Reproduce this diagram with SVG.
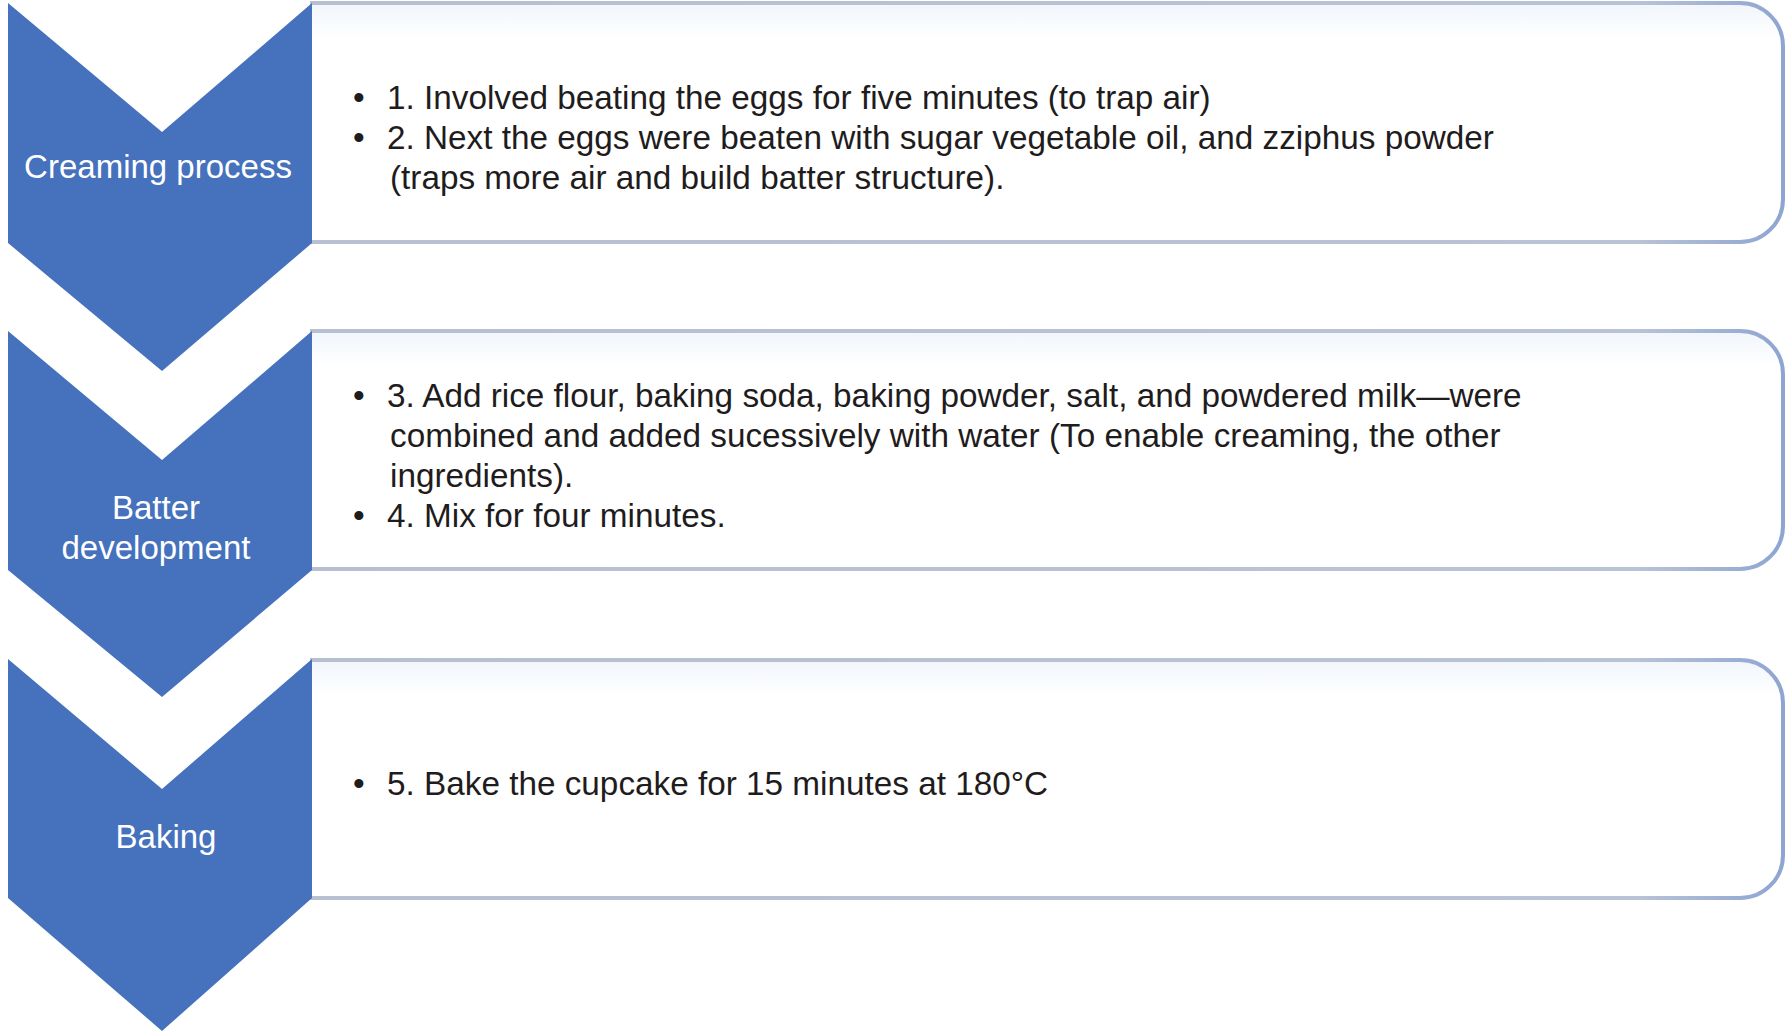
<svg xmlns="http://www.w3.org/2000/svg" width="1786" height="1033" viewBox="0 0 1786 1033">
<defs>
<linearGradient id="boxfill" x1="0" y1="0" x2="0" y2="1">
<stop offset="0" stop-color="#f1f6fc"/>
<stop offset="0.15" stop-color="#ffffff"/>
<stop offset="1" stop-color="#ffffff"/>
</linearGradient>
<linearGradient id="boxstroke" x1="0" y1="0" x2="1" y2="0">
<stop offset="0" stop-color="#b7c0d0"/>
<stop offset="0.9" stop-color="#b9c3d6"/>
<stop offset="1" stop-color="#8ea5d2"/>
</linearGradient>
</defs>
<style>
.box{fill:url(#boxfill);stroke:url(#boxstroke);stroke-width:4}
.chev{fill:#4571bd}
.lbl{font-family:"Liberation Sans",Arial,sans-serif;font-size:33px;fill:#ffffff;text-anchor:middle}
.txt{font-family:"Liberation Sans",Arial,sans-serif;font-size:33.3px;fill:#1f1c1d}
</style>
<g id="connectors"></g>
<g id="step1">
<path class="box" d="M310,3 H1740 A43,43 0 0 1 1783,46 V199 A43,43 0 0 1 1740,242 H310"/>
<path class="chev" d="M8,3 L162,132 L312,3 L312,243 L162,371 L8,243 Z"/>
<text class="lbl" x="158" y="178">Creaming process</text>
<text class="txt" x="353" y="109">•</text>
<text class="txt" x="387" y="109">1. Involved beating the eggs for five minutes (to trap air)</text>
<text class="txt" x="353" y="149">•</text>
<text class="txt" x="387" y="149">2. Next the eggs were beaten with sugar vegetable oil, and zziphus powder</text>
<text class="txt" x="390" y="189">(traps more air and build batter structure).</text>
</g>
<g id="step2">
<path class="box" d="M310,331 H1740 A43,43 0 0 1 1783,374 V526 A43,43 0 0 1 1740,569 H310"/>
<path class="chev" d="M8,331 L162,460 L312,331 L312,570 L162,697 L8,570 Z"/>
<text class="lbl" x="156" y="519">Batter</text>
<text class="lbl" x="156" y="559">development</text>
<text class="txt" x="353" y="407">•</text>
<text class="txt" x="387" y="407">3. Add rice flour, baking soda, baking powder, salt, and powdered milk—were</text>
<text class="txt" x="390" y="447">combined and added sucessively with water (To enable creaming, the other</text>
<text class="txt" x="390" y="487">ingredients).</text>
<text class="txt" x="353" y="527">•</text>
<text class="txt" x="387" y="527">4. Mix for four minutes.</text>
</g>
<g id="step3">
<path class="box" d="M310,660 H1740 A43,43 0 0 1 1783,703 V855 A43,43 0 0 1 1740,898 H310"/>
<path class="chev" d="M8,659 L162,789 L312,659 L312,898 L162,1031 L8,898 Z"/>
<text class="lbl" x="166" y="848">Baking</text>
<text class="txt" x="353" y="795">•</text>
<text class="txt" x="387" y="795">5. Bake the cupcake for 15 minutes at 180°C</text>
</g>
</svg>
